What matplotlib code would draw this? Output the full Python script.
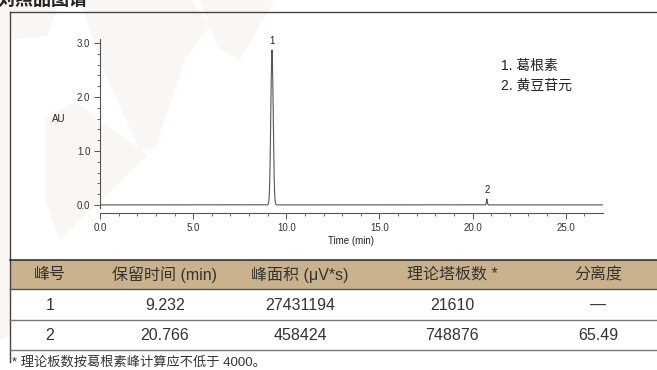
import numpy as np
import matplotlib.pyplot as plt
from matplotlib.patches import Polygon, Rectangle
from matplotlib.lines import Line2D

plt.rcParams['font.family'] = ['Liberation Sans', 'Noto Sans CJK SC', 'DejaVu Sans']

# Peak table
peak_no = ['1', '2']
ret_time = [9.232, 20.766]
peak_area = [27431194, 458424]
plates = [21610, 748876]
resolution = ['—', '65.49']
peak_height = [2.87, 0.11]          # AU
compounds = ['葛根素', '黄豆苷元']

headers = ['峰号', '保留时间 (min)', '峰面积 (μV*s)', '理论塔板数 *', '分离度']
col_x = [50, 165, 300, 452, 598]     # column centres, px

W, H = 657, 370
fig = plt.figure(figsize=(W / 100, H / 100), dpi=100)

def fx(px):
    return px / W

def fy(py):
    return 1 - py / H

# faint logo in the background
wm = '#faf6f3'
shapes = [
    [(0, 0), (60, 0), (47, 36), (10, 40), (10, 335), (0, 340)],
    [(45, 118), (75, 102), (147, 155), (60, 240), (45, 200)],
    [(80, 0), (190, 0), (210, 25), (185, 60), (155, 148), (140, 150), (103, 70)],
    [(200, 0), (275, 0), (240, 60), (218, 48)],
]
for s in shapes:
    fig.patches.append(Polygon([(fx(a), fy(b)) for a, b in s], closed=True,
                               transform=fig.transFigure, fc=wm, ec='none', zorder=-5))

# section title (clipped at the top edge)
fig.text(fx(-3), fy(9), '对照品图谱', fontsize=13, fontweight='bold',
         color='#222222', va='bottom', ha='left')

# frame around the chromatogram
frame = dict(transform=fig.transFigure, color='#444444', lw=1.0)
fig.add_artist(Line2D([fx(10), fx(W)], [fy(12), fy(12)], **frame))
fig.add_artist(Line2D([fx(10), fx(10)], [fy(12), fy(362)], **frame))

# chromatogram
ax = fig.add_axes([fx(100), fy(213), fx(603) - fx(100), fy(37.6) - fy(213)])
ax.patch.set_alpha(0)
t = np.arange(0, 27.0001, 0.004)
signal = np.zeros_like(t)
for tr, h, n in zip(ret_time, peak_height, plates):
    sigma = tr / np.sqrt(n)
    signal += h * np.exp(-0.5 * ((t - tr) / sigma) ** 2)
ax.plot(t, signal, color='#555555', lw=0.8)

ax.set_xlim(0, 27)
ax.set_ylim(-0.15, 3.1)
for sp in ['top', 'right']:
    ax.spines[sp].set_visible(False)
ax.spines['left'].set_bounds(-0.05, 3.07)
ax.spines['left'].set_color('#555555')
ax.spines['bottom'].set_color('#555555')
ax.spines['left'].set_linewidth(0.8)
ax.spines['bottom'].set_linewidth(0.8)

ax.set_xticks(np.arange(0, 26, 5))
ax.set_xticks(np.arange(0, 27, 1), minor=True)
ax.set_yticks(np.arange(0, 3.1, 1))
ax.set_yticks(np.arange(0, 3.05, 0.2), minor=True)
ax.xaxis.set_major_formatter(plt.FormatStrFormatter('%.1f'))
ax.yaxis.set_major_formatter(plt.FormatStrFormatter('%.1f'))
ax.tick_params(which='major', length=4, width=0.7, color='#555555',
               labelsize=7, labelcolor='#333333', pad=3)
ax.tick_params(which='minor', length=2, width=0.6, color='#555555')
ax.set_xlabel('Time (min)', fontsize=7, color='#222222', labelpad=2)

ax.text(-0.082, 1.6, 'AU', transform=ax.get_yaxis_transform(), fontsize=7,
        color='#222222', ha='center', va='center')

for lab, tr, h in zip(peak_no, ret_time, peak_height):
    ax.annotate(lab, (tr, h), xytext=(0, 3), textcoords='offset points',
                ha='center', va='bottom', fontsize=7, color='#222222')

for i, (lab, name) in enumerate(zip(peak_no, compounds)):
    fig.text(fx(501), fy(66 + 20 * i), f'{lab}. {name}', fontsize=10,
             color='#222222', va='center', ha='left')

# peak table
fig.patches.append(Rectangle((fx(10), fy(289)), fx(W) - fx(10), fy(260) - fy(289),
                             transform=fig.transFigure, fc='#c9b28b', ec='none', zorder=1))
for py, c, lw in [(260, '#333333', 1.2), (289, '#555555', 1.0),
                  (320, '#777777', 1.0), (350, '#777777', 1.0)]:
    fig.add_artist(Line2D([fx(10), fx(W)], [fy(py), fy(py)], transform=fig.transFigure,
                          color=c, lw=lw))

tc = '#333333'
for x, hdr in zip(col_x, headers):
    fig.text(fx(x), fy(274.5), hdr, fontsize=11.5, color=tc, ha='center', va='center')

rows = []
for i in range(len(peak_no)):
    rows.append([peak_no[i], f'{ret_time[i]:.3f}', str(peak_area[i]),
                 str(plates[i]), resolution[i]])
for r, row in enumerate(rows):
    yc = 305 + 30.5 * r
    for x, val in zip(col_x, row):
        fig.text(fx(x), fy(yc), val, fontsize=11.5, color=tc, ha='center', va='center')

fig.text(fx(12), fy(362), '* 理论板数按葛根素峰计算应不低于 4000。', fontsize=9.5,
         color=tc, ha='left', va='center')

fig.savefig('out.png', dpi=100)
